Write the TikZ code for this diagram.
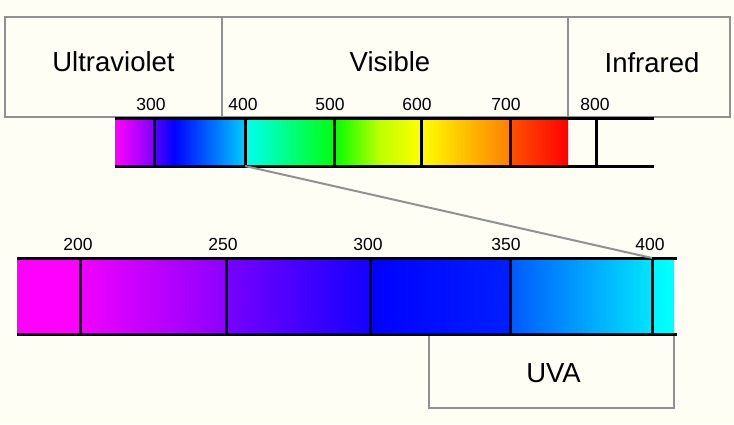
\documentclass[tikz,border=0pt]{standalone}
\usepackage{fontspec}
\setmainfont{Liberation Sans}
\usepackage{tikz}
\usetikzlibrary{positioning}
\definecolor{bgCream}{RGB}{254,254,244}
\definecolor{boxGray}{RGB}{145,145,145}

\begin{document}
\begin{tikzpicture}[
    x=1pt, y=-1pt,
    band/.style={draw=boxGray, line width=2pt, fill=bgCream, inner sep=0pt},
    bandtxt/.style={font=\fontsize{27.5}{32}\selectfont},
    num/.style={font=\fontsize{17.5}{20}\selectfont, inner sep=1pt},
    rail/.style={line width=3pt, black},
    tick/.style={line width=3pt, black},
    zoomline/.style={draw=boxGray, line width=2pt}
  ]
  \useasboundingbox (0,0) rectangle (734,424);
  \fill[bgCream] (0,0) rectangle (734,424);

  % region boxes
  \node[band, minimum width=217pt, minimum height=100pt] (uv) at (113.5,67) {};
  \node[band, minimum width=346pt, minimum height=100pt] (vis) at (395,67) {};
  \node[band, minimum width=162pt, minimum height=100pt] (ir) at (649,67) {};
  \node[bandtxt] (uvtxt) at ([yshift=5pt]uv.center) {Ultraviolet};
  \node[bandtxt] (vistxt) at ([xshift=-5pt, yshift=5pt]vis.center) {Visible};
  \node[bandtxt] (irtxt) at ([xshift=3pt, yshift=4pt]ir.center) {Infrared};

  % full spectrum bar
  \foreach \a/\b/\ca/\cb in {115/154/magenta/magenta!50!blue,
      154/174/magenta!35!blue/blue,
      174/245/blue/cyan!80!blue,
      245/334/cyan!95!green/green!95!cyan,
      334/380/green/yellow!75!green,
      380/421/yellow!75!green/yellow,
      421/510/yellow/yellow!50!red,
      510/568/yellow!32!red/red} {
    \shade[left color=\ca, right color=\cb] (\a,118) rectangle (\b,166);
  }
  \draw[rail] (115,118) -- (654,118);
  \draw[rail] (115,166) -- (654,166);
  \foreach \v/\x/\lx in {300/154/151, 400/245/243, 500/334/330, 600/421/417, 700/510/506, 800/596/595} {
    \coordinate (up\v) at (\x,118);
    \coordinate (dn\v) at (\x,166);
    \draw[tick] (up\v) -- (dn\v);
    \node[num] (num\v) at (\lx,104) {\v};
  }

  % UV close-up bar
  \foreach \a/\b/\ca/\cb in {17/80/magenta/magenta,
      80/226/magenta!94!blue/magenta!55!blue,
      226/370/magenta!47!blue/magenta!8!blue,
      370/510/blue/cyan!12!blue,
      510/652/cyan!35!blue/cyan!90!blue,
      652/674/cyan!97!blue/cyan} {
    \shade[left color=\ca, right color=\cb] (\a,258) rectangle (\b,334);
  }
  \node[band, minimum width=245pt, minimum height=74pt] (uva) at (551.5,371) {};
  \node[bandtxt] (uvatxt) at ([xshift=2pt, yshift=-2pt]uva.center) {UVA};
  \draw[rail] (17,258) -- (677,258);
  \draw[rail] (17,334) -- (677,334);
  \foreach \v/\x/\lx in {200/80/78, 250/226/223, 300/370/368, 350/510/506, 400/652/650} {
    \coordinate (uvup\v) at (\x,258);
    \coordinate (uvdn\v) at (\x,334);
    \draw[tick] (uvup\v) -- (uvdn\v);
    \node[num] (uvnum\v) at (\lx,244) {\v};
  }

  % zoom connector
  \draw[zoomline] (dn400) -- (uvup400);
\end{tikzpicture}
\end{document}
